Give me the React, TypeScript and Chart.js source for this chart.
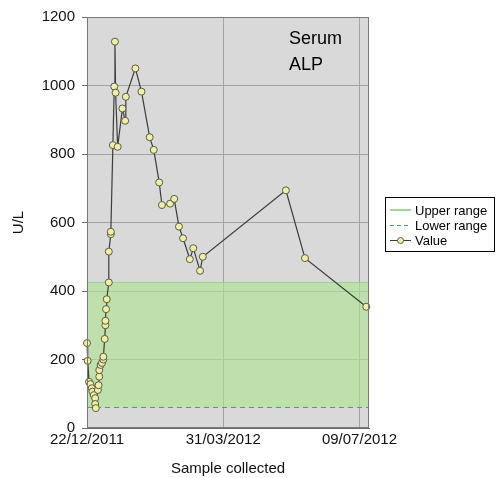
import React, { useEffect, useRef } from 'react';
import { Chart, registerables } from 'chart.js';

Chart.register(...registerables);

// Days since 22/12/2011
const sampleDays = [
  0, 0.5, 1.5, 2.5, 3.5, 4, 5, 6, 6, 6.5,
  8, 8.5, 9, 9, 10, 11, 12, 12, 13, 13.5,
  13.5, 14, 14.5, 16, 16, 17.5, 17.5, 19, 20, 20.5,
  21, 22.5, 26, 28, 28.5, 35.5, 40, 46, 49, 53,
  55, 61, 64, 67.5, 70.5, 75.5, 78, 83, 85, 146,
  160, 205,
];
// ALP (U/L)
const alpValues = [
  248, 196, 135, 128, 116, 106, 96, 87, 70, 58,
  111, 125, 150, 169, 184, 190, 200, 208, 260, 300,
  313, 347, 376, 425, 515, 566, 573, 826, 997, 1128,
  979, 821, 933, 897, 967, 1050, 982, 849, 812, 717,
  651, 655, 669, 588, 554, 493, 525, 459, 500, 694,
  496, 354,
];

const tickDays = [0, 100, 200];
const tickLabels = ['22/12/2011', '31/03/2012', '09/07/2012'];
const axisMaxDay = 207;
const yMax = 1200;
const yStep = 200;
const upperRange = 425;
const lowerRange = 60;
const legendLabels = ['Upper range', 'Lower range', 'Value'];
const titleLines = ['Serum', 'ALP'];
const yAxisTitle = 'U/L';
const xAxisTitle = 'Sample collected';

const FONT = "'Liberation Sans', Arial, Helvetica, sans-serif";
const GREEN_FILL = 'rgba(172, 228, 146, 0.62)';
const GREEN_LINE = 'rgba(150, 210, 130, 0.9)';
const DASH_COLOR = '#4f9a6e';
const MARKER_FILL = '#efefa8';
const MARKER_BORDER = '#5d5d40';
const LINE_COLOR = '#3c3c3c';

const bgPlugin = {
  id: 'bgPlugin',
  beforeDraw(chart: any) {
    const { ctx, chartArea } = chart;
    ctx.save();
    ctx.fillStyle = '#ffffff';
    ctx.fillRect(0, 0, chart.width, chart.height);
    ctx.fillStyle = '#d9d9d9';
    ctx.fillRect(chartArea.left, chartArea.top, chartArea.right - chartArea.left, chartArea.bottom - chartArea.top);
    ctx.restore();
  },
};

const overlayPlugin = {
  id: 'overlayPlugin',
  afterDraw(chart: any) {
    const { ctx, chartArea } = chart;
    ctx.save();
    // plot border
    ctx.strokeStyle = '#7a7a7a';
    ctx.lineWidth = 1;
    ctx.strokeRect(Math.round(chartArea.left) + 0.5, Math.round(chartArea.top) + 0.5,
      Math.round(chartArea.right - chartArea.left) - 1, Math.round(chartArea.bottom - chartArea.top) - 1);

    // inner title
    ctx.fillStyle = '#000';
    ctx.font = `18px ${FONT}`;
    ctx.textAlign = 'left';
    ctx.textBaseline = 'alphabetic';
    titleLines.forEach((t, i) => ctx.fillText(t, 289, 44 + i * 26));

    // legend
    const bx = 385.5, by = 197.5, bw = 109, bh = 54;
    ctx.fillStyle = '#ffffff';
    ctx.fillRect(bx, by, bw, bh);
    ctx.strokeStyle = '#000';
    ctx.lineWidth = 1;
    ctx.strokeRect(bx, by, bw, bh);
    const rows = [210, 225, 240];
    const sx0 = 390, sx1 = 411;
    // upper range swatch
    ctx.strokeStyle = GREEN_LINE;
    ctx.lineWidth = 2;
    ctx.beginPath(); ctx.moveTo(sx0, rows[0]); ctx.lineTo(sx1, rows[0]); ctx.stroke();
    // lower range swatch
    ctx.strokeStyle = DASH_COLOR;
    ctx.lineWidth = 1;
    ctx.setLineDash([4, 3]);
    ctx.beginPath(); ctx.moveTo(sx0, rows[1] + 0.5); ctx.lineTo(sx1, rows[1] + 0.5); ctx.stroke();
    ctx.setLineDash([]);
    // value swatch
    ctx.strokeStyle = LINE_COLOR;
    ctx.beginPath(); ctx.moveTo(sx0, rows[2] + 0.5); ctx.lineTo(sx1, rows[2] + 0.5); ctx.stroke();
    ctx.fillStyle = MARKER_FILL;
    ctx.strokeStyle = MARKER_BORDER;
    ctx.beginPath(); ctx.arc((sx0 + sx1) / 2, rows[2] + 0.5, 3, 0, Math.PI * 2); ctx.fill(); ctx.stroke();
    ctx.fillStyle = '#000';
    ctx.font = `13px ${FONT}`;
    ctx.textBaseline = 'middle';
    legendLabels.forEach((l, i) => ctx.fillText(l, 415, rows[i] + 1));
    ctx.restore();
  },
};

export default function App() {
  const canvasRef = useRef<HTMLCanvasElement | null>(null);

  useEffect(() => {
    const canvas = canvasRef.current;
    if (!canvas) return;
    const valuePoints = sampleDays.map((d, i) => ({ x: d, y: alpValues[i] }));
    const chart = new Chart(canvas, {
      type: 'line',
      data: {
        datasets: [
          {
            label: legendLabels[0],
            data: [{ x: 0, y: upperRange }, { x: axisMaxDay, y: upperRange }],
            borderColor: GREEN_LINE,
            borderWidth: 1,
            backgroundColor: GREEN_FILL,
            fill: 1,
            pointRadius: 0,
            order: 3,
          },
          {
            label: legendLabels[1],
            data: [{ x: 0, y: lowerRange }, { x: axisMaxDay, y: lowerRange }],
            borderColor: DASH_COLOR,
            borderWidth: 1,
            borderDash: [5, 4],
            fill: false,
            pointRadius: 0,
            order: 2,
          },
          {
            label: legendLabels[2],
            data: valuePoints,
            borderColor: LINE_COLOR,
            borderWidth: 1.2,
            fill: false,
            tension: 0,
            pointRadius: 3.5,
            pointBackgroundColor: MARKER_FILL,
            pointBorderColor: MARKER_BORDER,
            pointBorderWidth: 1,
            clip: 8,
            order: 1,
          } as any,
        ],
      },
      options: {
        animation: false,
        responsive: false,
        devicePixelRatio: 1,
        layout: { padding: { top: 17, right: 128, bottom: 0, left: 0 } },
        plugins: {
          legend: { display: false },
          tooltip: { enabled: false },
        },
        scales: {
          x: {
            type: 'linear',
            min: 0,
            max: axisMaxDay,
            afterBuildTicks: (scale: any) => {
              scale.ticks = tickDays.map((v) => ({ value: v }));
            },
            afterFit: (scale: any) => {
              scale.height = 50;
            },
            ticks: {
              callback: (v: any) => {
                const idx = tickDays.indexOf(Number(v));
                return idx >= 0 ? tickLabels[idx] : '';
              },
              font: { family: FONT, size: 15 },
              color: '#111',
              padding: 3,
              maxRotation: 0,
              autoSkip: false,
            },
            grid: { color: '#a4a4a4', drawTicks: false },
            border: { display: true, color: '#6a6a6a' },
            title: {
              display: true,
              text: xAxisTitle,
              font: { family: FONT, size: 15 },
              color: '#111',
              padding: { top: 0, bottom: 0 },
            },
          },
          y: {
            min: 0,
            max: yMax,
            ticks: {
              stepSize: yStep,
              font: { family: FONT, size: 15 },
              color: '#111',
              padding: 7,
              callback: (v: any) => String(v),
            },
            afterFit: (scale: any) => {
              scale.width = 87;
            },
            grid: { color: '#a4a4a4', tickColor: '#6a6a6a', tickLength: 5 },
            border: { display: true, color: '#6a6a6a' },
            title: {
              display: true,
              text: yAxisTitle,
              font: { family: FONT, size: 15 },
              color: '#111',
              padding: { top: 10, bottom: 0 },
            },
          },
        },
      } as any,
      plugins: [bgPlugin, overlayPlugin],
    });
    return () => chart.destroy();
  }, []);

  return (
    <div style={{ position: 'fixed', left: 0, top: 0, width: 497, height: 478, background: '#fff' }}>
      <canvas ref={canvasRef} width={497} height={478} style={{ width: 497, height: 478, display: 'block' }} />
    </div>
  );
}
